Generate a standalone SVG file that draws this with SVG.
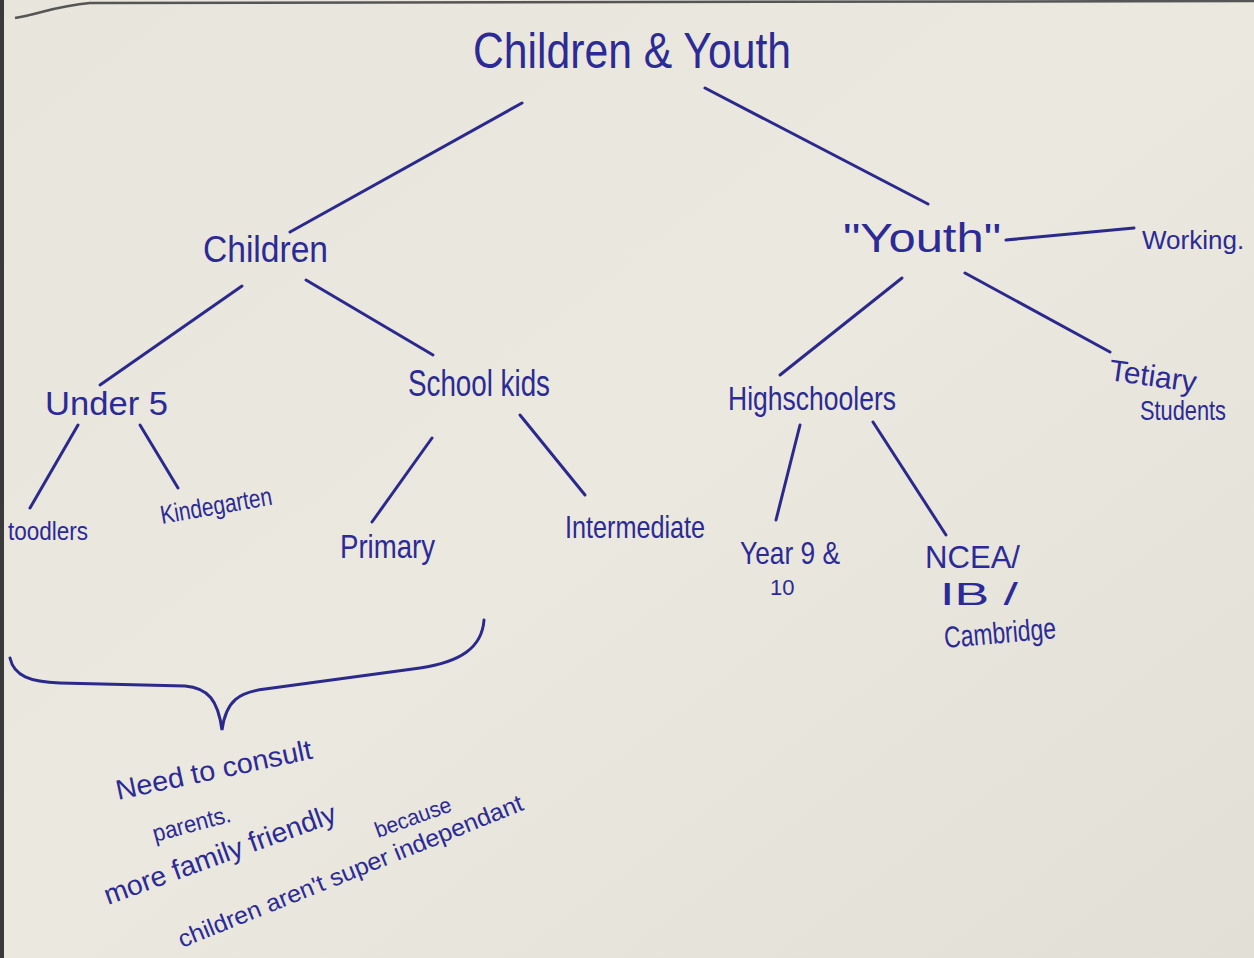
<svg xmlns="http://www.w3.org/2000/svg" width="1254" height="958" viewBox="0 0 1254 958">
<defs>
<linearGradient id="paper" x1="0" y1="0" x2="1" y2="1">
<stop offset="0" stop-color="#e8e5dc"/>
<stop offset="0.5" stop-color="#ebe8df"/>
<stop offset="1" stop-color="#e2dfd6"/>
</linearGradient>
<style>
.ink{fill:#2b2a96;font-family:"Liberation Sans",sans-serif;}
.ln{stroke:#2b2a8c;stroke-width:3;fill:none;stroke-linecap:round;}
</style>
</defs>
<rect width="1254" height="958" fill="url(#paper)"/>
<rect x="0" y="0" width="4" height="958" fill="#3a3a3a"/>
<path d="M15,18 C40,14 55,6 90,3 L1254,1" stroke="#555" stroke-width="2.5" fill="none"/>
<g id="connectors">
<line class="ln" x1="522" y1="103" x2="290" y2="232"/>
<line class="ln" x1="705" y1="88" x2="928" y2="204"/>
<line class="ln" x1="1006" y1="240" x2="1134" y2="228"/>
<line class="ln" x1="902" y1="278" x2="780" y2="375"/>
<line class="ln" x1="965" y1="273" x2="1110" y2="352"/>
<line class="ln" x1="800" y1="425" x2="776" y2="520"/>
<line class="ln" x1="873" y1="422" x2="946" y2="535"/>
<line class="ln" x1="242" y1="286" x2="100" y2="385"/>
<line class="ln" x1="306" y1="280" x2="433" y2="355"/>
<line class="ln" x1="78" y1="425" x2="30" y2="508"/>
<line class="ln" x1="140" y1="425" x2="178" y2="488"/>
<line class="ln" x1="432" y1="438" x2="372" y2="522"/>
<line class="ln" x1="520" y1="415" x2="585" y2="495"/>
<path class="ln" d="M10,658 C14,676 30,682 60,683 L185,686 C208,688 218,700 222,730 C226,700 240,692 265,689 L420,668 C460,662 482,648 484,620"/>
</g>
<g id="root"><text class="ink" x="473" y="68" font-size="50" textLength="318" lengthAdjust="spacingAndGlyphs">Children  &amp;  Youth</text></g>
<g id="children"><text class="ink" x="203" y="262" font-size="36" textLength="125" lengthAdjust="spacingAndGlyphs">Children</text></g>
<g id="youth"><text class="ink" x="843" y="252" font-size="40" textLength="158" lengthAdjust="spacingAndGlyphs">"Youth"</text></g>
<g id="working"><text class="ink" x="1142" y="249" font-size="26">Working.</text></g>
<g id="tetiary"><text class="ink" x="1108" y="380" font-size="30" textLength="88" lengthAdjust="spacingAndGlyphs" transform="rotate(8 1108 380)">Tetiary</text><text class="ink" x="1140" y="420" font-size="28" textLength="86" lengthAdjust="spacingAndGlyphs">Students</text></g>
<g id="highschoolers"><text class="ink" x="728" y="410" font-size="34" textLength="168" lengthAdjust="spacingAndGlyphs">Highschoolers</text></g>
<g id="year910"><text class="ink" x="740" y="564" font-size="32" textLength="100" lengthAdjust="spacingAndGlyphs">Year 9 &amp;</text><text class="ink" x="770" y="595" font-size="22">10</text></g>
<g id="ncea"><text class="ink" x="925" y="568" font-size="32" textLength="95" lengthAdjust="spacingAndGlyphs">NCEA/</text><text class="ink" x="940" y="605" font-size="32" textLength="78" lengthAdjust="spacingAndGlyphs">IB /</text><text class="ink" x="945" y="648" font-size="30" textLength="112" lengthAdjust="spacingAndGlyphs" transform="rotate(-5 945 648)">Cambridge</text></g>
<g id="under5"><text class="ink" x="45" y="415" font-size="34" textLength="123" lengthAdjust="spacingAndGlyphs">Under 5</text></g>
<g id="schoolkids"><text class="ink" x="408" y="396" font-size="36" textLength="142" lengthAdjust="spacingAndGlyphs">School kids</text></g>
<g id="toodlers"><text class="ink" x="8" y="540" font-size="26" textLength="80" lengthAdjust="spacingAndGlyphs">toodlers</text></g>
<g id="kindegarten"><text class="ink" x="162" y="524" font-size="26" textLength="113" lengthAdjust="spacingAndGlyphs" transform="rotate(-10 162 524)">Kindegarten</text></g>
<g id="primary"><text class="ink" x="340" y="558" font-size="34" textLength="95" lengthAdjust="spacingAndGlyphs">Primary</text></g>
<g id="intermediate"><text class="ink" x="565" y="538" font-size="32" textLength="140" lengthAdjust="spacingAndGlyphs">Intermediate</text></g>
<g id="note">
<text class="ink" x="118" y="800" font-size="28" textLength="200" lengthAdjust="spacingAndGlyphs" transform="rotate(-12 118 800)">Need  to  consult</text>
<text class="ink" x="155" y="842" font-size="24" textLength="80" lengthAdjust="spacingAndGlyphs" transform="rotate(-15 155 842)">parents.</text>
<text class="ink" x="108" y="905" font-size="28" textLength="245" lengthAdjust="spacingAndGlyphs" transform="rotate(-20 108 905)">more  family  friendly</text>
<text class="ink" x="378" y="838" font-size="22" textLength="80" lengthAdjust="spacingAndGlyphs" transform="rotate(-20 378 838)">because</text>
<text class="ink" x="182" y="948" font-size="24" textLength="370" lengthAdjust="spacingAndGlyphs" transform="rotate(-22 182 948)">children  aren't  super  independant</text>
</g>
</svg>
